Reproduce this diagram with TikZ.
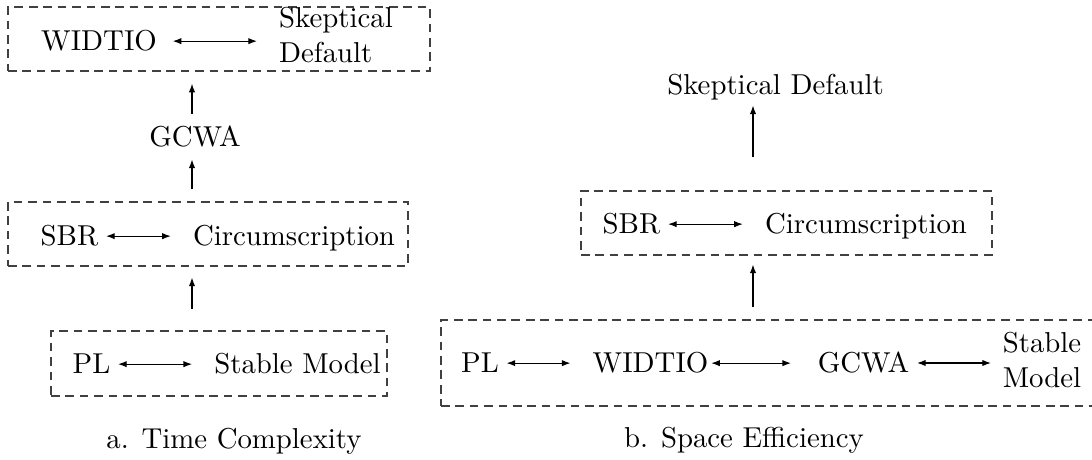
\documentclass[tikz,border=0pt]{standalone}
\usetikzlibrary{arrows.meta, positioning, fit}

\begin{document}
\begin{tikzpicture}[
    x=0.3472pt, y=-0.3472pt,
    frame/.style={draw=black!75, dash pattern=on 3pt off 2pt, inner sep=0pt},
    term/.style={inner sep=2.5pt, anchor=base},
    pair/.style={inner sep=2.5pt, align=left},
    link/.style={{Latex[length=3pt,width=2.2pt]}-{Latex[length=3pt,width=2.2pt]}, shorten >=5pt},
    upward/.style={-{Latex[length=3pt,width=2.2pt]}}
  ]
    \useasboundingbox (0,0) rectangle (1092,460);
    \coordinate (spineA) at (192,0);
    \coordinate (spineB) at (753,0);

    % a. time complexity
    \node[frame, fit={(8,7) (430,71)}] (topA) {};
    \node[term] (widtioA) at (99,51) {WIDTIO};
    \node[pair] (skepA) at (336,35) {Skeptical\\Default};
    \node[term] (gcwaA) at (195,147) {GCWA};
    \node[frame, fit={(8,202) (408,266)}] (midA) {};
    \node[term] (sbrA) at (69.5,246) {SBR};
    \node[term] (circA) at (294,246) {Circumscription};
    \node[frame, fit={(51,331) (387,396)}] (botA) {};
    \node[term] (plA) at (91.5,374) {PL};
    \node[term] (stableA) at (297.5,374) {Stable Model};
    \node[term] (capA) at (234,449) {a. Time Complexity};

    \draw[link, shorten <=2.8pt] (widtioA.east) -- (widtioA.east -| skepA.west);
    \draw[link] (sbrA.east) -- (sbrA.east -| circA.west);
    \draw[link] (plA.east) -- (plA.east -| stableA.west);
    \draw[upward, shorten <=7.6pt, shorten >=3.8pt] (botA.north -| spineA) -- (midA.south -| spineA);
    \draw[upward, shorten <=4.2pt, shorten >=1.4pt] (midA.north -| spineA) -- (gcwaA.south -| spineA);
    \draw[upward, shorten <=1.7pt, shorten >=4.2pt] (gcwaA.north -| spineA) -- (topA.south -| spineA);

    % b. space efficiency
    \node[term] (skepB) at (775.5,95) {Skeptical Default};
    \node[frame, fit={(581,191) (992,255)}] (midB) {};
    \node[term] (sbrB) at (631.5,234) {SBR};
    \node[term] (circB) at (866,234) {Circumscription};
    \node[frame, fit={(441,320) (1100,406)}] (botB) {};
    \node[term] (plB) at (480,373) {PL};
    \node[term] (widtioB) at (650.5,373) {WIDTIO};
    \node[term] (gcwaB) at (863.5,373) {GCWA};
    \node[pair] (stableB) at (1042,360) {Stable\\Model};
    \node[term] (capB) at (744,448) {b. Space Efficiency};

    \draw[link] (sbrB.east) -- (sbrB.east -| circB.west);
    \draw[link] (plB.east) -- (plB.east -| widtioB.west);
    \draw[link, shorten <=-1.7pt, shorten >=6.6pt] (widtioB.east) -- (widtioB.east -| gcwaB.west);
    \draw[link, shorten >=1.4pt] (gcwaB.east) -- (gcwaB.east -| stableB.west);
    \draw[upward, shorten <=4.2pt, shorten >=3.1pt] (botB.north -| spineB) -- (midB.south -| spineB);
    \draw[upward, shorten <=11.5pt, shorten >=-1pt] (midB.north -| spineB) -- (skepB.south -| spineB);
  \end{tikzpicture}
\end{document}
